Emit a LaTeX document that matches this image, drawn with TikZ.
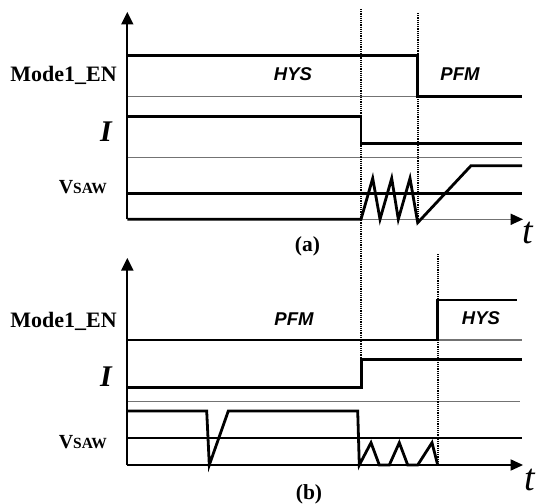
\documentclass[tikz,border=0pt]{standalone}
\usepackage{fontspec}
\setmainfont{Liberation Serif}
\newfontfamily\hysfont{Liberation Sans}
\usetikzlibrary{arrows.meta}
\begin{document}
\begin{tikzpicture}[x=1bp,y=-1bp,
  sig/.style={line width=2.8bp, line join=miter, line cap=butt},
  gridline/.style={line width=1.2bp, black!55},
  axisline/.style={line width=1.8bp},
  vdots/.style={line width=1.7bp, dash pattern=on 1.2bp off 1.0bp},
  tip/.style={fill=black},
  lbl/.style={inner sep=0pt, anchor=base east},
  mode/.style={inner sep=0pt, anchor=base, font=\hysfont\fontsize{18.5bp}{19bp}\selectfont\bfseries\itshape},
  captext/.style={inner sep=0pt, anchor=base, font=\fontsize{21.5bp}{22bp}\selectfont\bfseries},
  tl/.style={inner sep=0pt, anchor=base, font=\fontsize{38bp}{38bp}\selectfont\itshape}]
\useasboundingbox (0,0) rectangle (543,504);

% ---------- panel (a) ----------
\coordinate (oa) at (127.3,219.3);
\coordinate (ya) at (127.3,24);
\coordinate (xa) at (511,219.3);
\draw[gridline] (127.3,96.7) -- (417.7,96.7);
\draw[gridline] (127.3,157.3) -- (522,157.3);
\draw[gridline] (361,219.3) -- (xa);
\draw[axisline] (oa) -- (ya);
\fill[tip] (127.3,12) -- (121,24.5) -- (133.6,24.5) -- cycle;
\fill[tip] (523,219.3) -- (510.5,213.5) -- (510.5,225.1) -- cycle;
% Mode1_EN
\draw[sig] (127.3,55.7) -- (417.7,55.7) -- (417.7,96.7) -- (522,96.7);
% I
\draw[sig] (127.3,116.7) -- (361,116.7) -- (361,143.3) -- (522,143.3);
% V_SAW
\draw[sig] (127.3,193.3) -- (522,193.3);
\draw[sig] (oa) -- (361,219.3) -- (372.7,178.3) -- (380,219.3) -- (391.7,178.3)
  -- (398.3,219.3) -- (410,178.3) -- (417.7,222.7) -- (471,165.7) -- (522,165.7);
% labels
\node[lbl, font=\fontsize{22bp}{22bp}\selectfont\bfseries] (m1a) at (117,82) {Mode1\_EN};
\node[lbl, font=\fontsize{30bp}{30bp}\selectfont\bfseries\itshape] (ia) at (112,141.7) {I};
\node[lbl, font=\fontsize{20bp}{20bp}\selectfont\bfseries] (va) at (107,193.3) {V{\fontsize{15.5bp}{16bp}\selectfont SAW}};
\node[mode] (hysa) at (293,80.5) {HYS};
\node[mode] (pfma) at (460,80.5) {PFM};
\node[tl] (ta) at (528,243) {t};
\node[captext] (capa) at (307.5,251.5) {(a)};

% ---------- panel (b) ----------
\coordinate (ob) at (127.3,465);
\coordinate (yb) at (127.3,270);
\coordinate (xb) at (511,465);
\draw[gridline] (437.7,340) -- (522,340);
\draw[gridline] (127.3,401.7) -- (520,401.7);
\draw[axisline] (ob) -- (yb);
\fill[tip] (127.3,258) -- (121,270.5) -- (133.6,270.5) -- cycle;
\draw[sig] (ob) -- (xb);
\fill[tip] (523,465) -- (510.5,459.2) -- (510.5,470.8) -- cycle;
% Mode1_EN
\draw[sig] (127.3,340) -- (437.7,340) -- (437.7,300) -- (516.7,300);
% I
\draw[sig] (127.3,387.3) -- (361.5,387.3) -- (361.5,359.3) -- (522,359.3);
% V_SAW
\draw[sig] (127.3,438) -- (522,438);
\draw[sig] (127.3,411) -- (206.7,411) -- (209.3,465) -- (228.3,411) -- (357.7,411)
  -- (359.3,465) -- (371,442.7) -- (379.3,465) -- (389.3,465) -- (399.3,442.7)
  -- (407.7,465) -- (417.7,465) -- (432,442.7) -- (437.7,465);
% labels
\node[lbl, font=\fontsize{22bp}{22bp}\selectfont\bfseries] (m1b) at (117,327) {Mode1\_EN};
\node[lbl, font=\fontsize{30bp}{30bp}\selectfont\bfseries\itshape] (ib) at (112,386.7) {I};
\node[lbl, font=\fontsize{20bp}{20bp}\selectfont\bfseries] (vb) at (107,448) {V{\fontsize{15.5bp}{16bp}\selectfont SAW}};
\node[mode] (pfmb) at (294,325.5) {PFM};
\node[mode] (hysb) at (481,324.5) {HYS};
\node[tl] (tb) at (530,490) {t};
\node[captext] (capb) at (309,499.5) {(b)};

% ---------- dotted markers ----------
\draw[vdots] (361,9) -- (361,360);
\draw[vdots] (417.7,13) -- (417.7,222);
\draw[vdots] (437.7,254) -- (437.7,463);
\end{tikzpicture}
\end{document}
